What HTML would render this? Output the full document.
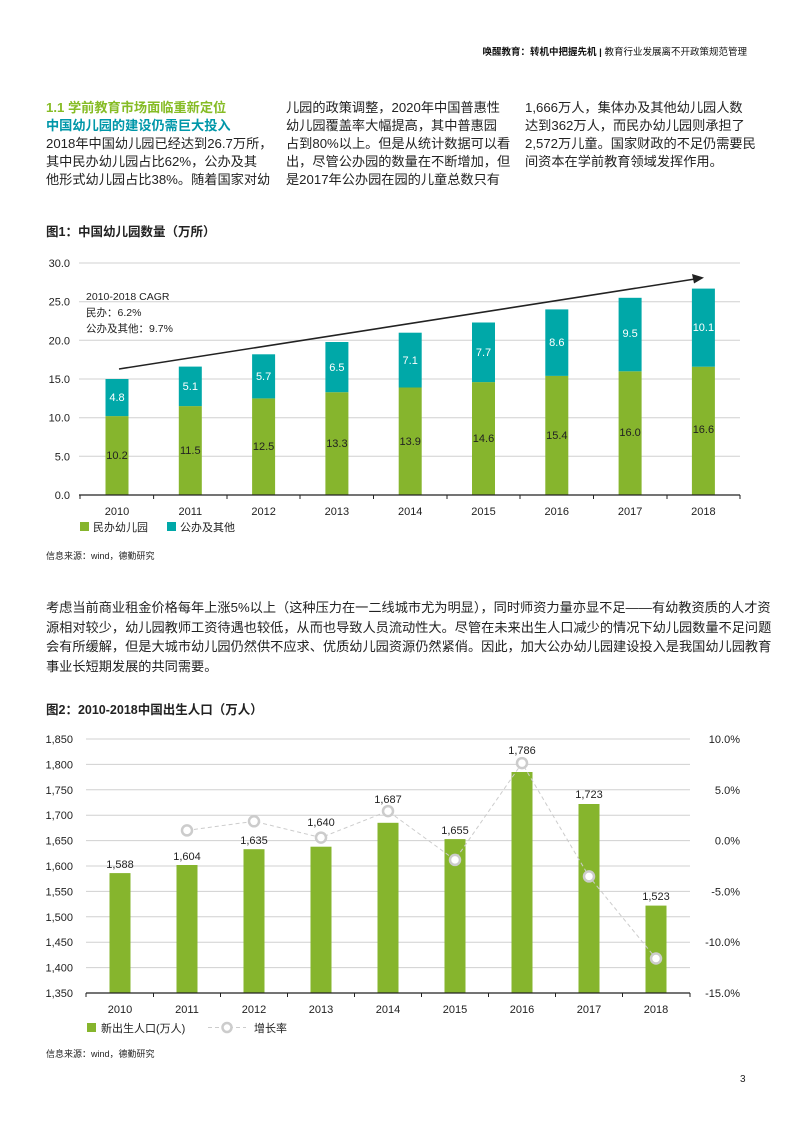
<!DOCTYPE html>
<html><head><meta charset="utf-8"><style>
body{margin:0;width:793px;height:1122px;background:#fff;position:relative;font-family:"Liberation Sans","Noto Sans CJK SC",sans-serif;color:#222;overflow:hidden}
.a{position:absolute;white-space:nowrap}
.p{font-size:13.2px;line-height:18px;color:#222}
</style></head><body>
<div class="a" style="right:46px;top:44px;font-size:9.5px;font-weight:bold;color:#111">唤醒教育：转机中把握先机 | <span style="font-weight:normal">教育行业发展离不开政策规范管理</span></div>

<div class="a p" style="left:46px;top:99px;font-weight:bold;color:#86bc25">1.1 学前教育市场面临重新定位</div>
<div class="a p" style="left:46px;top:117px;font-weight:bold;color:#0097a9">中国幼儿园的建设仍需巨大投入</div>
<div class="a p" style="left:46px;top:135px">2018年中国幼儿园已经达到26.7万所，<br>其中民办幼儿园占比62%，公办及其<br>他形式幼儿园占比38%。随着国家对幼</div>
<div class="a p" style="left:286px;top:99px">儿园的政策调整，2020年中国普惠性<br>幼儿园覆盖率大幅提高，其中普惠园<br>占到80%以上。但是从统计数据可以看<br>出，尽管公办园的数量在不断增加，但<br>是2017年公办园在园的儿童总数只有</div>
<div class="a p" style="left:525px;top:99px">1,666万人，集体办及其他幼儿园人数<br>达到362万人，而民办幼儿园则承担了<br>2,572万儿童。国家财政的不足仍需要民<br>间资本在学前教育领域发挥作用。</div>

<div class="a" style="left:46px;top:221px;font-size:12.5px;font-weight:bold">图1：中国幼儿园数量（万所）</div>
<div class="a" style="left:46px;top:549px;font-size:9px">信息来源：wind，德勤研究</div>

<svg class="a" style="left:0;top:0" width="793" height="1122" font-family="Liberation Sans, Noto Sans CJK SC, sans-serif">
<g stroke="#d0d0d0" stroke-width="1">
<line x1="79" x2="740" y1="263" y2="263"/><line x1="79" x2="740" y1="301.7" y2="301.7"/><line x1="79" x2="740" y1="340.3" y2="340.3"/><line x1="79" x2="740" y1="379" y2="379"/><line x1="79" x2="740" y1="417.7" y2="417.7"/><line x1="79" x2="740" y1="456.3" y2="456.3"/>
</g>
<g font-size="11" fill="#222" text-anchor="end">
<text x="70" y="267">30.0</text><text x="70" y="305.7">25.0</text><text x="70" y="344.3">20.0</text><text x="70" y="383">15.0</text><text x="70" y="421.7">10.0</text><text x="70" y="460.3">5.0</text><text x="70" y="499">0.0</text>
</g>
<g id="b1"></g>
<g font-size="11" text-anchor="middle">
<!-- bars chart1 -->
<rect x="105.5" y="416.1" width="23" height="78.9" fill="#86b52d"/><rect x="105.5" y="379" width="23" height="37.1" fill="#00a8a8"/>
<rect x="178.8" y="406.1" width="23" height="88.9" fill="#86b52d"/><rect x="178.8" y="366.6" width="23" height="39.5" fill="#00a8a8"/>
<rect x="252.1" y="398.4" width="23" height="96.6" fill="#86b52d"/><rect x="252.1" y="354.3" width="23" height="44.1" fill="#00a8a8"/>
<rect x="325.4" y="392.2" width="23" height="102.8" fill="#86b52d"/><rect x="325.4" y="342" width="23" height="50.2" fill="#00a8a8"/>
<rect x="398.7" y="387.5" width="23" height="107.5" fill="#86b52d"/><rect x="398.7" y="332.7" width="23" height="54.8" fill="#00a8a8"/>
<rect x="472" y="382.1" width="23" height="112.9" fill="#86b52d"/><rect x="472" y="322.5" width="23" height="59.6" fill="#00a8a8"/>
<rect x="545.3" y="375.9" width="23" height="119.1" fill="#86b52d"/><rect x="545.3" y="309.4" width="23" height="66.5" fill="#00a8a8"/>
<rect x="618.6" y="371.3" width="23" height="123.7" fill="#86b52d"/><rect x="618.6" y="297.8" width="23" height="73.5" fill="#00a8a8"/>
<rect x="691.9" y="366.7" width="23" height="128.3" fill="#86b52d"/><rect x="691.9" y="288.6" width="23" height="78.1" fill="#00a8a8"/>
<g fill="#222"><text x="117" y="459">10.2</text><text x="190.3" y="454">11.5</text><text x="263.6" y="450">12.5</text><text x="336.9" y="447">13.3</text><text x="410.2" y="445">13.9</text><text x="483.5" y="442">14.6</text><text x="556.8" y="439">15.4</text><text x="630.1" y="436">16.0</text><text x="703.4" y="433">16.6</text></g>
<g fill="#fff"><text x="117" y="401">4.8</text><text x="190.3" y="390">5.1</text><text x="263.6" y="380">5.7</text><text x="336.9" y="371">6.5</text><text x="410.2" y="364">7.1</text><text x="483.5" y="356">7.7</text><text x="556.8" y="346">8.6</text><text x="630.1" y="337">9.5</text><text x="703.4" y="331">10.1</text></g>
<g fill="#222"><text x="117" y="515">2010</text><text x="190.3" y="515">2011</text><text x="263.6" y="515">2012</text><text x="336.9" y="515">2013</text><text x="410.2" y="515">2014</text><text x="483.5" y="515">2015</text><text x="556.8" y="515">2016</text><text x="630.1" y="515">2017</text><text x="703.4" y="515">2018</text></g>
</g>
<line x1="79" x2="740" y1="495" y2="495" stroke="#222" stroke-width="1.3"/>
<g stroke="#222"><line x1="80" x2="80" y1="495" y2="499"/><line x1="153.6" x2="153.6" y1="495" y2="499"/><line x1="227" x2="227" y1="495" y2="499"/><line x1="300" x2="300" y1="495" y2="499"/><line x1="373.5" x2="373.5" y1="495" y2="499"/><line x1="447" x2="447" y1="495" y2="499"/><line x1="520" x2="520" y1="495" y2="499"/><line x1="593.5" x2="593.5" y1="495" y2="499"/><line x1="667" x2="667" y1="495" y2="499"/><line x1="740" x2="740" y1="495" y2="499"/></g>
<line x1="119" y1="369" x2="695" y2="279" stroke="#222" stroke-width="1.6"/>
<polygon points="704,277.6 692,274 694,283.5" fill="#222"/>
<g font-size="10.5" fill="#222"><text x="86" y="300">2010-2018 CAGR</text><text x="86" y="316">民办：6.2%</text><text x="86" y="332">公办及其他：9.7%</text></g>
<rect x="80" y="522" width="9" height="9" fill="#86b52d"/><text x="93" y="531" font-size="11" fill="#222">民办幼儿园</text>
<rect x="167" y="522" width="9" height="9" fill="#00a8a8"/><text x="180" y="531" font-size="11" fill="#222">公办及其他</text>

<!-- chart 2 -->
<g stroke="#d0d0d0"><line x1="86" x2="690" y1="739" y2="739"/><line x1="86" x2="690" y1="764.4" y2="764.4"/><line x1="86" x2="690" y1="789.8" y2="789.8"/><line x1="86" x2="690" y1="815.2" y2="815.2"/><line x1="86" x2="690" y1="840.6" y2="840.6"/><line x1="86" x2="690" y1="866" y2="866"/><line x1="86" x2="690" y1="891.4" y2="891.4"/><line x1="86" x2="690" y1="916.8" y2="916.8"/><line x1="86" x2="690" y1="942.2" y2="942.2"/><line x1="86" x2="690" y1="967.6" y2="967.6"/></g>
<g font-size="11" fill="#222" text-anchor="end"><text x="73" y="743">1,850</text><text x="73" y="768.4">1,800</text><text x="73" y="793.8">1,750</text><text x="73" y="819.2">1,700</text><text x="73" y="844.6">1,650</text><text x="73" y="870">1,600</text><text x="73" y="895.4">1,550</text><text x="73" y="920.8">1,500</text><text x="73" y="946.2">1,450</text><text x="73" y="971.6">1,400</text><text x="73" y="997">1,350</text></g>
<g font-size="11" fill="#222" text-anchor="end"><text x="740" y="743">10.0%</text><text x="740" y="793.8">5.0%</text><text x="740" y="844.6">0.0%</text><text x="740" y="895.4">-5.0%</text><text x="740" y="946.2">-10.0%</text><text x="740" y="997">-15.0%</text></g>
<g fill="#86b52d">
<rect x="109.5" y="873.1" width="21" height="119.9"/><rect x="176.5" y="865" width="21" height="128"/><rect x="243.5" y="849.2" width="21" height="143.8"/><rect x="310.5" y="846.7" width="21" height="146.3"/><rect x="377.5" y="822.8" width="21" height="170.2"/><rect x="444.5" y="839.1" width="21" height="153.9"/><rect x="511.5" y="772" width="21" height="221"/><rect x="578.5" y="804" width="21" height="189"/><rect x="645.5" y="905.6" width="21" height="87.4"/>
</g>
<g font-size="11" fill="#222" text-anchor="middle"><text x="120" y="868">1,588</text><text x="187" y="860">1,604</text><text x="254" y="844">1,635</text><text x="321" y="826">1,640</text><text x="388" y="803">1,687</text><text x="455" y="834">1,655</text><text x="522" y="754">1,786</text><text x="589" y="798">1,723</text><text x="656" y="900">1,523</text></g>
<polyline points="187,830.4 254,821.3 321,837.6 388,811.1 455,859.9 522,763.1 589,876.4 656,958.5" fill="none" stroke="#ccc" stroke-width="1" stroke-dasharray="4,3"/>
<g fill="#fff" stroke="#ccc" stroke-width="2.5"><circle cx="187" cy="830.4" r="5"/><circle cx="254" cy="821.3" r="5"/><circle cx="321" cy="837.6" r="5"/><circle cx="388" cy="811.1" r="5"/><circle cx="455" cy="859.9" r="5"/><circle cx="522" cy="763.1" r="5"/><circle cx="589" cy="876.4" r="5"/><circle cx="656" cy="958.5" r="5"/></g>
<line x1="86" x2="690" y1="993" y2="993" stroke="#222" stroke-width="1.3"/>
<g stroke="#222"><line x1="86" x2="86" y1="993" y2="997"/><line x1="153.5" x2="153.5" y1="993" y2="997"/><line x1="220.5" x2="220.5" y1="993" y2="997"/><line x1="287.5" x2="287.5" y1="993" y2="997"/><line x1="354.5" x2="354.5" y1="993" y2="997"/><line x1="421.5" x2="421.5" y1="993" y2="997"/><line x1="488.5" x2="488.5" y1="993" y2="997"/><line x1="555.5" x2="555.5" y1="993" y2="997"/><line x1="622.5" x2="622.5" y1="993" y2="997"/><line x1="690" x2="690" y1="993" y2="997"/></g>
<g font-size="11" fill="#222" text-anchor="middle"><text x="120" y="1013">2010</text><text x="187" y="1013">2011</text><text x="254" y="1013">2012</text><text x="321" y="1013">2013</text><text x="388" y="1013">2014</text><text x="455" y="1013">2015</text><text x="522" y="1013">2016</text><text x="589" y="1013">2017</text><text x="656" y="1013">2018</text></g>
<rect x="87" y="1023" width="9" height="9" fill="#86b52d"/><text x="101" y="1032" font-size="11" fill="#222">新出生人口(万人)</text>
<line x1="208" x2="246" y1="1027.5" y2="1027.5" stroke="#ccc" stroke-dasharray="4,3"/><circle cx="227" cy="1027.5" r="4.5" fill="#fff" stroke="#ccc" stroke-width="2.5"/>
<text x="254" y="1032" font-size="11" fill="#222">增长率</text>
</svg>

<div class="a p" style="left:46px;top:598px;line-height:19.5px">考虑当前商业租金价格每年上涨5%以上（这种压力在一二线城市尤为明显），同时师资力量亦显不足——有幼教资质的人才资<br>源相对较少，幼儿园教师工资待遇也较低，从而也导致人员流动性大。尽管在未来出生人口减少的情况下幼儿园数量不足问题<br>会有所缓解，但是大城市幼儿园仍然供不应求、优质幼儿园资源仍然紧俏。因此，加大公办幼儿园建设投入是我国幼儿园教育<br>事业长短期发展的共同需要。</div>

<div class="a" style="left:46px;top:699px;font-size:12.5px;font-weight:bold">图2：2010-2018中国出生人口（万人）</div>
<div class="a" style="left:46px;top:1047px;font-size:9px">信息来源：wind，德勤研究</div>
<div class="a" style="left:740px;top:1074px;font-size:10px">3</div>
</body></html>
